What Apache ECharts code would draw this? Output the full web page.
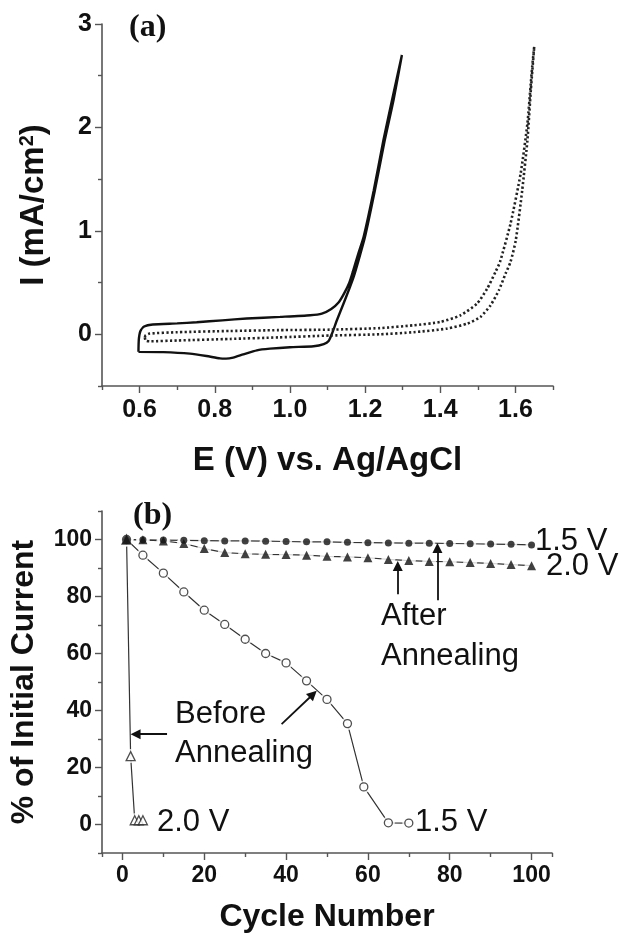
<!DOCTYPE html>
<html>
<head>
<meta charset="utf-8">
<script src="https://cdn.jsdelivr.net/npm/echarts@6/dist/echarts.min.js"></script>
<style>
  html, body { margin: 0; padding: 0; background: #fff; }
  #chart { width: 620px; height: 935px; }
</style>
</head>
<body>
<div id="chart"></div>
<script>
// (a) cyclic voltammograms, E (V) vs I (mA/cm2)
var solidE = [0.597, 0.598, 0.602, 0.612, 0.635, 0.70, 0.752, 0.82, 0.885, 0.974, 1.054, 1.085, 1.11, 1.13, 1.145, 1.158, 1.167, 1.182, 1.196, 1.223, 1.249, 1.272, 1.298,
  1.276, 1.252, 1.226, 1.199, 1.183, 1.17, 1.158, 1.143, 1.125, 1.112, 1.103, 1.09, 1.063, 1.0, 0.947, 0.912, 0.876, 0.849, 0.83, 0.814, 0.778, 0.734, 0.663, 0.597]
var solidI = [-0.17, -0.05, 0.03, 0.075, 0.095, 0.105, 0.116, 0.135, 0.152, 0.168, 0.184, 0.2, 0.245, 0.31, 0.4, 0.5, 0.6, 0.78, 0.94, 1.39, 1.88, 2.27, 2.7,
  2.27, 1.87, 1.39, 0.93, 0.72, 0.56, 0.44, 0.3, 0.136, 0.007, -0.065, -0.095, -0.116, -0.125, -0.139, -0.155, -0.194, -0.225, -0.235, -0.233, -0.21, -0.187, -0.172, -0.17]

var dotE = [0.614, 0.616, 0.627, 0.70, 0.841, 0.97, 1.107, 1.24, 1.329, 1.418, 1.472, 1.507, 1.534, 1.556, 1.574, 1.587, 1.601, 1.618, 1.632, 1.641, 1.65,
  1.645, 1.641, 1.632, 1.614, 1.587, 1.559, 1.547, 1.525, 1.498, 1.454, 1.40, 1.329, 1.24, 1.107, 0.97, 0.841, 0.70, 0.627, 0.616, 0.614]
var dotI = [-0.03, -0.06, -0.068, -0.06, -0.045, -0.03, -0.012, 0.0, 0.02, 0.055, 0.103, 0.168, 0.281, 0.426, 0.588, 0.70, 0.91, 1.39, 1.88, 2.36, 2.78,
  2.6, 2.43, 2.04, 1.556, 1.07, 0.70, 0.603, 0.442, 0.297, 0.184, 0.119, 0.087, 0.06, 0.045, 0.04, 0.032, 0.02, 0.007, -0.01, -0.03]

// (b) stability, % of initial current vs cycle number
var afterCycles = [1, 5, 10, 15, 20, 25, 30, 35, 40, 45, 50, 55, 60, 65, 70, 75, 80, 85, 90, 95, 100]
var after15 = [100, 99.9, 99.8, 99.7, 99.6, 99.5, 99.5, 99.4, 99.3, 99.2, 99.2, 99.0, 98.9, 98.8, 98.7, 98.7, 98.6, 98.5, 98.4, 98.3, 98.1]
var after20 = [100, 99.9, 99.5, 98.6, 96.8, 95.4, 95.0, 94.8, 94.7, 94.5, 94.1, 93.9, 93.6, 93.0, 92.6, 92.3, 92.2, 91.9, 91.6, 91.2, 90.8]
var before15Cycles = [1, 5, 10, 15, 20, 25, 30, 35, 40, 45, 50, 55, 59, 65, 70]
var before15 = [100, 94.5, 88.2, 81.6, 75.2, 70.2, 65.0, 60.0, 56.7, 50.4, 43.9, 35.4, 13.2, 0.6, 0.5]
var before20Cycles = [1, 2, 3, 4, 5]
var before20 = [100, 24, 1.5, 1.5, 1.5]

// tick labels
var cvXTicks = [0.6, 0.8, 1.0, 1.2, 1.4, 1.6]
var cvXMinor = [0.5, 0.7, 0.9, 1.1, 1.3, 1.5, 1.7]
var cvYTicks = [0, 1, 2, 3]
var cvYMinor = [-0.5, 0.5, 1.5, 2.5]
var cycXTicks = [0, 20, 40, 60, 80, 100]
var cycXMinor = [-5, 10, 30, 50, 70, 90, 105]
var cycYTicks = [0, 20, 40, 60, 80, 100]
var cycYMinor = [-10, 10, 30, 50, 70, 90, 110]

var FONT = '"Liberation Sans", Arial, sans-serif'
var AXIS_COLOR = '#555'
var INK = '#111'

function pts(xs, ys) {
  return xs.map(function (x, i) { return [x, ys[i]] })
}

function mainAxis(grid, pos, min, max, ticks, fmt, size, margin) {
  return {
    type: 'value', gridIndex: grid, position: pos, min: min, max: max,
    axisLine: { show: true, onZero: false, lineStyle: { color: AXIS_COLOR, width: 1.6 } },
    axisTick: { show: true, inside: false, length: 7, customValues: ticks, lineStyle: { color: AXIS_COLOR, width: 1.4 } },
    axisLabel: { show: true, customValues: ticks, formatter: fmt, color: INK, fontFamily: FONT, fontWeight: 'bold', fontSize: size, margin: margin },
    splitLine: { show: false }
  }
}

function minorAxis(grid, pos, min, max, ticks) {
  return {
    type: 'value', gridIndex: grid, position: pos, min: min, max: max,
    axisLine: { show: false, onZero: false },
    axisTick: { show: true, inside: false, length: 4, customValues: ticks, lineStyle: { color: AXIS_COLOR, width: 1.4 } },
    axisLabel: { show: false },
    splitLine: { show: false }
  }
}

var xA = mainAxis(0, 'bottom', 0.5, 1.7, cvXTicks, function (v) { return v.toFixed(1) }, 25, 12)
xA.name = 'E (V) vs. Ag/AgCl'
xA.nameLocation = 'middle'
xA.nameGap = 58
xA.nameTextStyle = { color: INK, fontFamily: FONT, fontWeight: 'bold', fontSize: 33 }

var yA = mainAxis(0, 'left', -0.5, 3, cvYTicks, function (v) { return String(v) }, 25, 10)
yA.name = 'I (mA/cm{s|2})'
yA.nameLocation = 'middle'
yA.nameGap = 52
yA.nameTextStyle = {
  color: INK, fontFamily: FONT, fontWeight: 'bold', fontSize: 33,
  rich: { s: { fontFamily: FONT, fontWeight: 'bold', fontSize: 20, color: INK, verticalAlign: 'top', padding: [0, 0, 12, 0] } }
}

var xB = mainAxis(1, 'bottom', -5, 105, cycXTicks, function (v) { return String(v) }, 23, 11)
xB.name = 'Cycle Number'
xB.nameLocation = 'middle'
xB.nameGap = 48
xB.nameTextStyle = { color: INK, fontFamily: FONT, fontWeight: 'bold', fontSize: 32 }

var yB = mainAxis(1, 'left', -10, 110, cycYTicks, function (v) { return String(v) }, 23, 10)
yB.name = '% of Initial Current'
yB.nameLocation = 'middle'
yB.nameGap = 62
yB.nameTextStyle = { color: INK, fontFamily: FONT, fontWeight: 'bold', fontSize: 32 }

// line + white halo + marker, so the connecting line stops short of each symbol
function cycleSeries(xs, ys, symbol, size, filled) {
  var data = pts(xs, ys)
  return [
    { type: 'line', xAxisIndex: 2, yAxisIndex: 2, data: data, showSymbol: false, lineStyle: { color: '#333', width: 1.2 }, z: 2 },
    { type: 'scatter', xAxisIndex: 2, yAxisIndex: 2, data: data, symbol: 'circle', symbolSize: size + 5, itemStyle: { color: '#fff' }, z: 3 },
    {
      type: 'scatter', xAxisIndex: 2, yAxisIndex: 2, data: data, symbol: symbol, symbolSize: size, z: 4,
      itemStyle: filled ? { color: INK } : { color: '#fff', borderColor: '#222', borderWidth: 1.3 }
    }
  ]
}

var arrowLines = {
  type: 'line', xAxisIndex: 2, yAxisIndex: 2, data: [], z: 5,
  markLine: {
    silent: true, animation: false,
    symbol: ['none', 'triangle'], symbolSize: 10,
    label: { show: false },
    lineStyle: { color: INK, width: 1.8, type: 'solid' },
    data: [
      [{ coord: [67.3, 80.8] }, { coord: [67.3, 90.7] }],
      [{ coord: [77.0, 78.7] }, { coord: [77.0, 97.0] }],
      [{ coord: [10.9, 31.7] }, { coord: [3.2, 31.7] }],
      [{ coord: [38.9, 35.2] }, { coord: [46.6, 45.7] }]
    ]
  }
}

var series = [
  { type: 'line', xAxisIndex: 0, yAxisIndex: 0, data: pts(solidE, solidI), showSymbol: false, smooth: 0.2,
    lineStyle: { color: INK, width: 2.4 } },
  { type: 'line', xAxisIndex: 0, yAxisIndex: 0, data: pts(dotE, dotI), showSymbol: false, smooth: 0.2,
    lineStyle: { color: '#222', width: 2.6, type: [2.2, 2.4] } }
]
// open (before annealing) first so the filled markers sit on top at cycle 1
series = series
  .concat(cycleSeries(before20Cycles, before20, 'triangle', 9, false))
  .concat(cycleSeries(before15Cycles, before15, 'circle', 8, false))
  .concat(cycleSeries(afterCycles, after20, 'triangle', 9, true))
  .concat(cycleSeries(afterCycles, after15, 'circle', 7, true))
series.push(arrowLines)

function label(text, x, y, font) {
  return { type: 'text', x: x, y: y, style: { text: text, font: font, fill: INK, align: 'left', verticalAlign: 'middle' } }
}
var ANNO = '31px ' + FONT
var PANEL = 'bold 32px "Liberation Serif", "Times New Roman", serif'

var chart = echarts.init(document.getElementById('chart'))
chart.setOption({
  animation: false,
  backgroundColor: '#fff',
  grid: [
    { left: 102, top: 24, width: 451, height: 362 },
    { left: 100, top: 511, width: 452, height: 342 }
  ],
  xAxis: [
    xA,
    minorAxis(0, 'bottom', 0.5, 1.7, cvXMinor),
    xB,
    minorAxis(1, 'bottom', -5, 105, cycXMinor)
  ],
  yAxis: [
    yA,
    minorAxis(0, 'left', -0.5, 3, cvYMinor),
    yB,
    minorAxis(1, 'left', -10, 110, cycYMinor)
  ],
  graphic: [
    label('(a)', 129, 28, PANEL),
    label('(b)', 133, 516, PANEL),
    label('1.5 V', 535, 541, ANNO),
    label('2.0 V', 546, 566, ANNO),
    label('After', 381, 616, ANNO),
    label('Annealing', 381, 656, ANNO),
    label('Before', 175, 714, ANNO),
    label('Annealing', 175, 753, ANNO),
    label('2.0 V', 157, 822, ANNO),
    label('1.5 V', 415, 822, ANNO)
  ],
  series: series
})
</script>
</body>
</html>
